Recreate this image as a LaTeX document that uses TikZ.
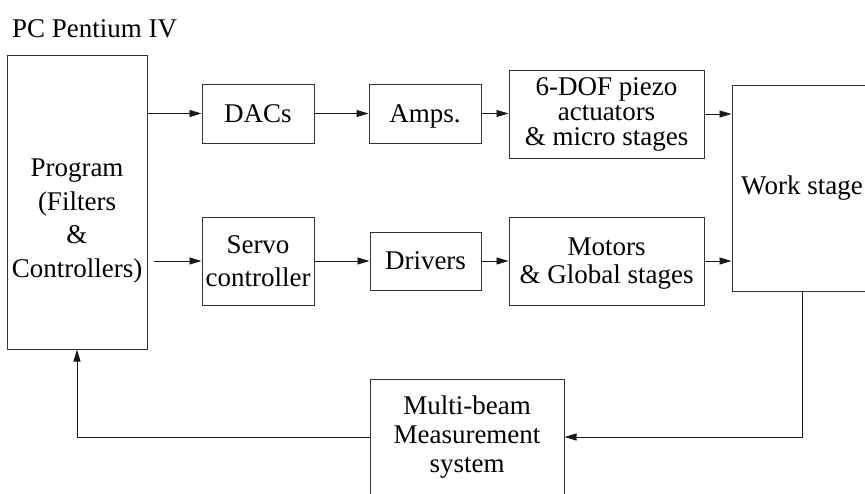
\documentclass[tikz,border=0pt]{standalone}
\usepackage{fontspec}
\setmainfont{Liberation Serif}
\usetikzlibrary{arrows.meta}
\begin{document}
\begin{tikzpicture}[x=1pt,y=-1pt,
  box/.style={draw=black!80, line width=1pt, rectangle, inner sep=0pt, align=center},
  txt/.style={inner sep=0pt, align=center},
  arr/.style={-{Triangle[length=12pt,width=7pt]}, line width=0.9pt, black!90}]
\useasboundingbox (0,0) rectangle (865,493);
\clip (0,0) rectangle (865,493);
% title
\node[txt, anchor=base west, font=\fontsize{27}{30}\selectfont] (pc) at (12,37) {PC Pentium IV};
% program
\node[box, minimum width=140pt, minimum height=294pt] (prog) at (77,202) {};
\node[txt, font=\fontsize{27}{33.5}\selectfont] (progtxt) at (77,221) {Program\\(Filters\\\&\\Controllers)};
% upper row
\node[box, minimum width=112pt, minimum height=59pt, text depth=0pt, font=\fontsize{27}{30}\selectfont] (dac) at (258,113.5) {DACs};
\node[box, minimum width=112pt, minimum height=59pt, text depth=0pt, font=\fontsize{27}{30}\selectfont] (amps) at (425,113.5) {Amps.};
\node[box, minimum width=195pt, minimum height=88pt, font=\fontsize{27}{25}\selectfont] (dof) at (606.5,114) {6-DOF piezo\\actuators\\\& micro stages};
% lower row
\node[box, minimum width=112pt, minimum height=88pt, font=\fontsize{27}{33}\selectfont] (servo) at (258,261) {Servo\\controller};
\node[box, minimum width=111pt, minimum height=58pt, text depth=0pt, font=\fontsize{27}{30}\selectfont] (drivers) at (425.5,261) {Drivers};
\node[box, minimum width=195pt, minimum height=88pt, text depth=0pt, font=\fontsize{27}{28}\selectfont] (motors) at (606.5,261) {Motors\\\& Global stages};
% work stage
\node[box, minimum width=140pt, minimum height=206pt, font=\fontsize{27}{30}\selectfont] (work) at (802,188) {Work stage};
% measurement
\node[box, minimum width=194pt, minimum height=116pt, font=\fontsize{27}{29}\selectfont] (meas) at (467,437) {Multi-beam\\Measurement\\system};
% connectors
\draw[arr] (prog.east |- dac) -- (dac);
\draw[arr] (dac) -- (amps);
\draw[arr] (amps.east) -- (amps.east -| dof.west);
\draw[arr] (dof.east) -- (dof.east -| work.west);
\draw[arr, shorten <=6pt] (prog.east |- servo) -- (servo);
\draw[arr] (servo) -- (drivers);
\draw[arr] (drivers) -- (motors);
\draw[arr] (motors.east) -- (motors.east -| work.west);
\draw[arr] (work.south) |- (meas.east);
\draw[arr] (meas.west) -| (prog.south);
\end{tikzpicture}
\end{document}
